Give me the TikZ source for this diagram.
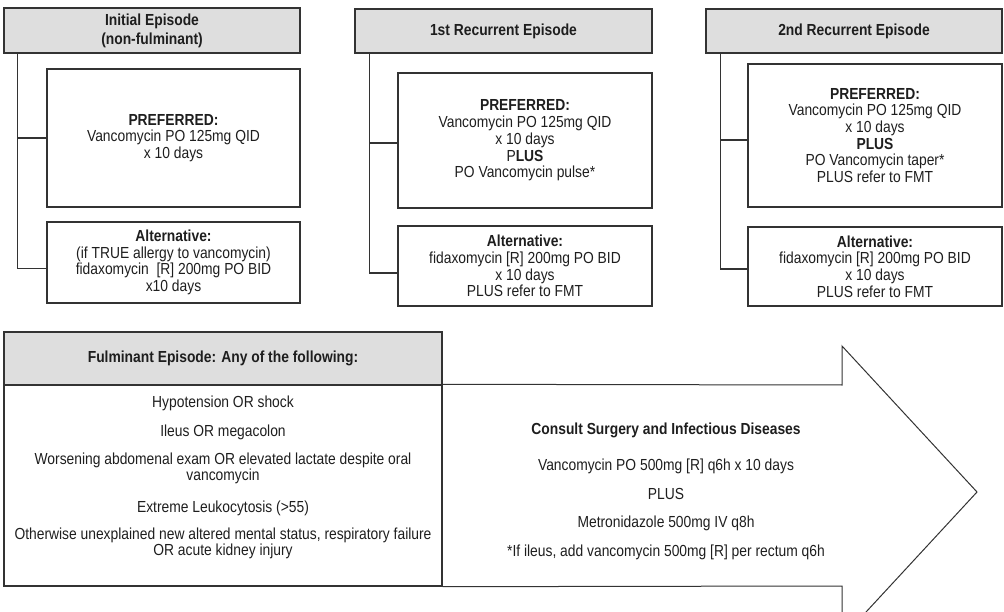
\documentclass[tikz,border=0pt]{standalone}
\usepackage{fontspec}
\setmainfont{Liberation Sans}[FakeStretch=0.865]
\definecolor{linec}{HTML}{333333}
\definecolor{hdrgray}{HTML}{DEDEDE}
\definecolor{txt}{HTML}{1E1E1E}
\begin{document}
\begin{tikzpicture}[x=1pt,y=-1pt,
  every node/.style={font=\fontsize{16}{16.7}\selectfont, text=txt},
  box/.style={draw=linec, line width=1.4pt, inner sep=0pt, align=center},
  hdr/.style={box, fill=hdrgray, font=\fontsize{16}{19}\selectfont\bfseries},
  conn/.style={draw=linec, line width=1.4pt},
  arrowline/.style={draw=linec, line width=1pt, line join=miter},
  txtnode/.style={inner sep=0pt, align=center}]
\useasboundingbox (0,0) rectangle (1004,612);
\clip (0,0) rectangle (1004,612);
% column 1
\node[hdr, minimum width=296pt, minimum height=45pt] (h1) at (152,30.5) {Initial Episode\\(non-fulminant)};
\node[box, minimum width=253pt, minimum height=138pt] (p1) at (173.5,138) {\textbf{PREFERRED:}\\Vancomycin PO 125mg QID\\x 10 days};
\node[box, minimum width=253pt, minimum height=81pt] (a1) at (173.5,262.5) {\textbf{Alternative:}\\(if TRUE allergy to vancomycin)\\fidaxomycin\ \ [R] 200mg PO BID\\x10 days};
\draw[conn] ([xshift=14pt]h1.south west) |- (p1.west);
\draw[conn] ([xshift=14pt]h1.south west) |- ([yshift=-6pt]a1.west);
% column 2
\node[hdr, minimum width=297pt, minimum height=44pt] (h2) at (503.5,31) {1st Recurrent Episode};
\node[box, minimum width=254pt, minimum height=135pt] (p2) at (525,140.5) {\textbf{PREFERRED:}\\Vancomycin PO 125mg QID\\x 10 days\\P\textbf{LUS}\\PO Vancomycin pulse*};
\node[box, minimum width=254pt, minimum height=80pt] (a2) at (525,266) {\textbf{Alternative:}\\fidaxomycin [R] 200mg PO BID\\x 10 days\\PLUS refer to FMT};
\draw[conn] ([xshift=15pt]h2.south west) |- ([yshift=-2.5pt]p2.west);
\draw[conn] ([xshift=15pt]h2.south west) |- ([yshift=-7pt]a2.west);
% column 3
\node[hdr, minimum width=296pt, minimum height=44pt] (h3) at (854,31) {2nd Recurrent Episode};
\node[box, minimum width=254pt, minimum height=143pt] (p3) at (875,135.5) {\textbf{PREFERRED:}\\Vancomycin PO 125mg QID\\x 10 days\\\textbf{PLUS}\\PO Vancomycin taper*\\PLUS refer to FMT};
\node[box, minimum width=254pt, minimum height=79pt] (a3) at (875,266.5) {\textbf{Alternative:}\\fidaxomycin [R] 200mg PO BID\\x 10 days\\PLUS refer to FMT};
\draw[conn] ([xshift=15pt]h3.south west) |- ([yshift=-4.5pt]p3.west);
\draw[conn] ([xshift=15pt]h3.south west) |- ([yshift=-2.5pt]a3.west);
% fulminant
\node[hdr, minimum width=438pt, minimum height=53pt] (fh) at (223,358.5) {Fulminant Episode: Any of the following:};
\node[box, minimum width=438pt, minimum height=201pt] (fb) at (223,485.5) {};
\node[txtnode] (f1) at (223,403) {Hypotension OR shock};
\node[txtnode] (f2) at (223,432) {Ileus OR megacolon};
\node[txtnode] (f3) at (223,468.5) {Worsening abdomenal exam OR elevated lactate despite oral\\vancomycin};
\node[txtnode] (f4) at (223,508) {Extreme Leukocytosis (>55)};
\node[txtnode] (f5) at (223,543.5) {Otherwise unexplained new altered mental status, respiratory failure\\OR acute kidney injury};
% arrow
\draw[arrowline] (fb.north east) -- (842,385) -- (842,346) -- (977,492) -- (842,638) -- (842,586) -- (fb.south east);
\node[txtnode, font=\fontsize{16}{16.7}\selectfont\bfseries] (t1) at (666,430) {Consult Surgery and Infectious Diseases};
\node[txtnode] (t2) at (666,466) {Vancomycin PO 500mg [R] q6h x 10 days};
\node[txtnode] (t3) at (666,494) {PLUS};
\node[txtnode] (t4) at (666,523) {Metronidazole 500mg IV q8h};
\node[txtnode] (t5) at (666,552) {*If ileus, add vancomycin 500mg [R] per rectum q6h};
\end{tikzpicture}
\end{document}
